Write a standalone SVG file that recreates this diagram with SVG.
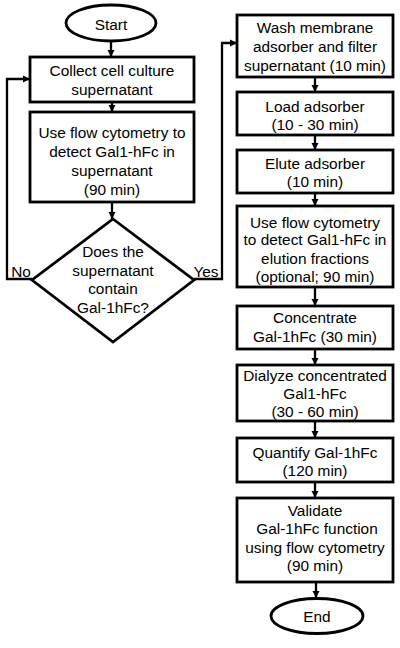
<svg xmlns="http://www.w3.org/2000/svg" width="400" height="648" viewBox="0 0 400 648">
<style>
.n{fill:#fff;stroke:#000;stroke-width:2.8}
.t{font-family:"Liberation Sans",Arial,sans-serif;font-size:15.4px;fill:#000;text-anchor:middle}
.l{fill:none;stroke:#000;stroke-width:2.3}
</style>
<defs>
<marker id="ah" markerUnits="userSpaceOnUse" markerWidth="8" markerHeight="8" refX="7" refY="4" orient="auto">
<path d="M0,0.5 L7,4 L0,7.5 Z" fill="#000"/>
</marker>
</defs>
<rect width="400" height="648" fill="#fff"/>
<g id="connectors">
<path class="l" d="M111,41 V57" marker-end="url(#ah)"/>
<path class="l" d="M112,102 V112" marker-end="url(#ah)"/>
<path class="l" d="M112,202 V219" marker-end="url(#ah)"/>
<path class="l" d="M32,279 H7 V79 H30" marker-end="url(#ah)"/>
<path class="l" d="M194,279 H222 V43 H237" marker-end="url(#ah)"/>
<path class="l" d="M315,77 V92" marker-end="url(#ah)"/>
<path class="l" d="M315,135 V150" marker-end="url(#ah)"/>
<path class="l" d="M315,193 V206" marker-end="url(#ah)"/>
<path class="l" d="M315,287 V306" marker-end="url(#ah)"/>
<path class="l" d="M315,349 V365" marker-end="url(#ah)"/>
<path class="l" d="M315,421 V438" marker-end="url(#ah)"/>
<path class="l" d="M315,482 V498" marker-end="url(#ah)"/>
<path class="l" d="M316,582 V598" marker-end="url(#ah)"/>
<text class="t" x="21" y="277">No</text>
<text class="t" x="206" y="277">Yes</text>
</g>
<g id="start">
<ellipse class="n" cx="111" cy="23" rx="45" ry="18"/>
<text class="t" x="111" y="30">Start</text>
</g>
<g id="collect">
<rect class="n" x="30" y="57" width="164" height="45"/>
<text class="t" x="112" y="76">Collect cell culture</text>
<text class="t" x="112" y="94.5">supernatant</text>
</g>
<g id="detect1">
<rect class="n" x="30" y="112" width="164" height="90"/>
<text class="t" x="112" y="138">Use flow cytometry to</text>
<text class="t" x="112" y="157">detect Gal1-hFc in</text>
<text class="t" x="112" y="176">supernatant</text>
<text class="t" x="112" y="194.5">(90 min)</text>
</g>
<g id="decision">
<path class="n" d="M113,219 L194,280 L113,342 L32,280 Z"/>
<text class="t" x="113" y="257">Does the</text>
<text class="t" x="113" y="276">supernatant</text>
<text class="t" x="113" y="294">contain</text>
<text class="t" x="113" y="313">Gal-1hFc?</text>
</g>
<g id="wash">
<rect class="n" x="237" y="15" width="156" height="62"/>
<text class="t" x="315" y="33">Wash membrane</text>
<text class="t" x="315" y="52">adsorber and filter</text>
<text class="t" x="315" y="70.5">supernatant (10 min)</text>
</g>
<g id="load">
<rect class="n" x="237" y="92" width="156" height="43"/>
<text class="t" x="315" y="111.5">Load adsorber</text>
<text class="t" x="315" y="129.5">(10 - 30 min)</text>
</g>
<g id="elute">
<rect class="n" x="237" y="150" width="156" height="43"/>
<text class="t" x="315" y="168.5">Elute adsorber</text>
<text class="t" x="315" y="187">(10 min)</text>
</g>
<g id="detect2">
<rect class="n" x="237" y="206" width="156" height="81"/>
<text class="t" x="315" y="227.5">Use flow cytometry</text>
<text class="t" x="315" y="245">to detect Gal1-hFc in</text>
<text class="t" x="315" y="263.5">elution fractions</text>
<text class="t" x="315" y="282">(optional; 90 min)</text>
</g>
<g id="concentrate">
<rect class="n" x="237" y="306" width="156" height="43"/>
<text class="t" x="315" y="322.5">Concentrate</text>
<text class="t" x="315" y="342">Gal-1hFc (30 min)</text>
</g>
<g id="dialyze">
<rect class="n" x="237" y="365" width="156" height="56"/>
<text class="t" x="315" y="380.5">Dialyze concentrated</text>
<text class="t" x="315" y="398.5">Gal1-hFc</text>
<text class="t" x="315" y="417">(30 - 60 min)</text>
</g>
<g id="quantify">
<rect class="n" x="237" y="438" width="156" height="44"/>
<text class="t" x="315" y="457.5">Quantify Gal-1hFc</text>
<text class="t" x="315" y="475.5">(120 min)</text>
</g>
<g id="validate">
<rect class="n" x="237" y="498" width="156" height="84"/>
<text class="t" x="315" y="515.5">Validate</text>
<text class="t" x="317" y="533.5">Gal-1hFc function</text>
<text class="t" x="315" y="552.5">using flow cytometry</text>
<text class="t" x="315" y="570.5">(90 min)</text>
</g>
<g id="end">
<ellipse class="n" cx="317" cy="616" rx="46" ry="17.5"/>
<text class="t" x="317" y="621.5">End</text>
</g>
</svg>
